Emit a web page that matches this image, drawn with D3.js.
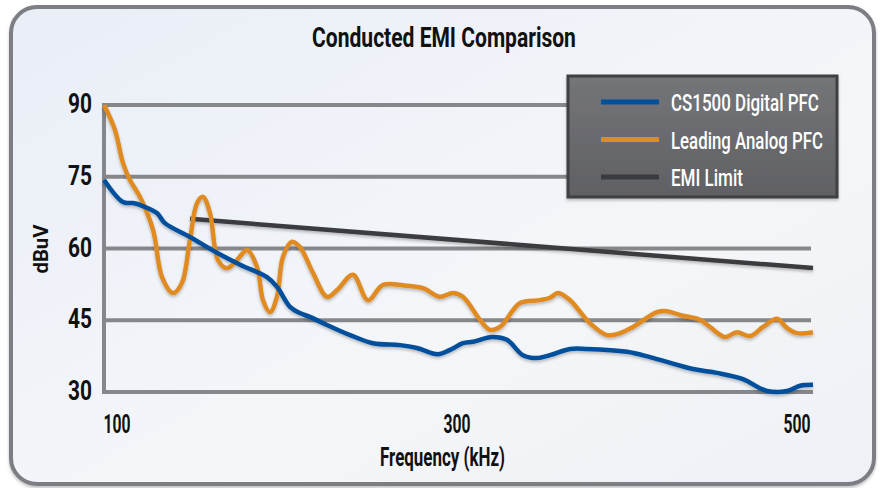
<!DOCTYPE html>
<html><head><meta charset="utf-8">
<script src="https://cdn.jsdelivr.net/npm/d3@7"></script>
<style>html,body{margin:0;padding:0;background:#fff;}svg{display:block;}</style>
</head><body>
<script>
// ---- data ----
const title = "Conducted EMI Comparison";
const xLabel = "Frequency (kHz)";
const yLabel = "dBuV";
const xTicks = [100, 300, 500];
const yTicks = [30, 45, 60, 75, 90];
const seriesNames = ["CS1500 Digital PFC", "Leading Analog PFC", "EMI Limit"];

const digitalFreq = [92.4,103.5,109.4,113.5,123.5,128.2,142.9,158.8,172.4,188.2,194.1,201.8,207.6,213.5,221.2,237.1,250.6,266.5,276.5,288.8,295.9,303.5,309.4,320.6,329.4,338.8,347.1,354.7,366.5,376.5,400,413.5,438.8,452.9,468.2,478.2,482.4,494.1,501.8,509.4];
const digitalVal  = [74.3,69.7,69.5,69.1,67.4,65.3,62.4,59.1,56.6,54.0,52.0,47.8,46.5,45.7,44.4,41.9,40.2,39.8,39.2,37.9,38.8,40.2,40.5,41.5,40.9,37.7,37.1,37.7,39.0,39.0,38.4,37.3,34.8,34.0,32.7,30.8,30.2,30.2,31.3,31.5];

const analogFreq = [92.4,98.8,103.5,107.6,113.5,121.2,126.5,132.9,138.2,142.9,147.1,150.6,154.7,159.4,164.7,170.6,176.5,182.4,185.9,190.0,194.1,197.6,202.9,207.6,215.3,223.5,229.4,238.8,247.6,256.5,270.6,280,290,297.6,303.5,313.5,319.4,325.3,337.1,348.8,354.7,359.4,366.5,378.2,388.2,395.9,403.5,417.6,423.5,431.2,442.9,448.8,457.6,464.7,472.4,480,488.2,494.1,500,509.4];
const analogVal  = [90.0,84.8,77.9,74.3,70.8,63.9,54.0,50.7,52.8,61.8,69.5,70.8,67.4,57.6,55.9,57.6,59.7,56.1,49.2,46.7,49.9,58.2,61.4,60.3,54.9,49.9,51.3,54.5,49.2,52.4,52.2,51.7,49.9,50.7,49.9,45.1,43.0,43.6,48.6,49.2,49.7,50.7,49.2,44.4,41.9,42.3,43.6,46.7,46.9,46.1,45.1,43.6,41.5,42.5,41.7,43.6,45.3,43.4,42.3,42.5];

const limitFreq = [143, 509.4];
const limitVal  = [66.2, 55.9];

// ---- layout ----
const W = 882, H = 488;
const svg = d3.select("body").append("svg").attr("width", W).attr("height", H);
const defs = svg.append("defs");

const bg = defs.append("linearGradient").attr("id","bg").attr("x1","0").attr("y1","0").attr("x2","1").attr("y2","1");
bg.append("stop").attr("offset","0").attr("stop-color","#e9eef7");
bg.append("stop").attr("offset","0.6").attr("stop-color","#f4f6f9");
bg.append("stop").attr("offset","1").attr("stop-color","#eef1f5");

const lg = defs.append("linearGradient").attr("id","lg").attr("x1","0").attr("y1","0").attr("x2","0").attr("y2","1");
lg.append("stop").attr("offset","0").attr("stop-color","#747579");
lg.append("stop").attr("offset","1").attr("stop-color","#5f6064");

const sh = defs.append("filter").attr("id","sh").attr("x","-10%").attr("y","-10%").attr("width","120%").attr("height","130%");
sh.append("feDropShadow").attr("dx",0).attr("dy",2).attr("stdDeviation",1.6).attr("flood-color","#000").attr("flood-opacity",0.25);

// frame
svg.append("rect").attr("x",11).attr("y",7).attr("width",863).attr("height",477).attr("rx",26)
  .attr("fill","url(#bg)").attr("stroke","#7c7e83").attr("stroke-width",4).attr("filter","url(#sh)");

const x = d3.scaleLinear().domain([100, 500]).range([117, 797]);
const y = d3.scaleLinear().domain([30, 90]).range([392, 105]);

// condensed text helper: draws text then squeezes horizontally to target width
function ctext(g, str, cx, by, size, w, anchor, color, weight) {
  const t = g.append("text").text(str)
    .attr("font-family","Roboto, 'Noto Sans', sans-serif")
    .attr("font-size", size).attr("font-weight", weight || 500)
    .attr("fill", color).attr("text-anchor", anchor);
  const len = t.node().getComputedTextLength();
  const s = w / len;
  t.attr("transform", `translate(${cx},${by}) scale(${s},1)`);
  return t;
}

// grid
const grid = svg.append("g");
grid.selectAll("line").data(yTicks).join("line")
  .attr("x1", 104).attr("x2", d => d === 30 ? 813 : 811)
  .attr("y1", d => y(d)).attr("y2", d => y(d))
  .attr("stroke", "#86878b").attr("stroke-width", 4);
grid.append("line").attr("x1",104).attr("x2",104).attr("y1",y(90)-2).attr("y2",y(30)+2)
  .attr("stroke","#86878b").attr("stroke-width",4);

// y tick labels
const ytl = svg.append("g");
yTicks.forEach(v => ctext(ytl, String(v), 92, y(v) + 8, 28, 24, "end", "#111", 700));
// x tick labels
const xtl = svg.append("g");
xTicks.forEach(v => ctext(xtl, String(v), x(v), 433, 25, 27, "middle", "#111", 700));

// titles
ctext(svg, title, 444, 47, 28, 264, "middle", "#111", 700);
ctext(svg, xLabel, 442.5, 466, 26, 125, "middle", "#111", 700);
const yl = svg.append("g").attr("transform","translate(48,249) rotate(-90)");
ctext(yl, yLabel, 0, 0, 21, 49, "middle", "#111", 700);

// lines
const line = d3.line().x(d => x(d[0])).y(d => y(d[1])).curve(d3.curveCatmullRom.alpha(0.5));
const plot = svg.append("g").attr("filter","url(#sh)");
plot.append("path").datum(limitFreq.map((f,i)=>[f, limitVal[i]]))
  .attr("d", d3.line().x(d=>x(d[0])).y(d=>y(d[1])))
  .attr("fill","none").attr("stroke","#3a3b3f").attr("stroke-width",4.5);
plot.append("path").datum(analogFreq.map((f,i)=>[f, analogVal[i]]))
  .attr("d", line).attr("fill","none").attr("stroke","#e08b24").attr("stroke-width",4.5).attr("stroke-linejoin","round");
plot.append("path").datum(digitalFreq.map((f,i)=>[f, digitalVal[i]]))
  .attr("d", line).attr("fill","none").attr("stroke","#00509c").attr("stroke-width",4.5).attr("stroke-linejoin","round");

// legend
const colors = ["#00509c", "#e08b24", "#3a3b3f"];
const legW = [148, 152, 72];
const leg = svg.append("g");
leg.append("rect").attr("x",568).attr("y",76).attr("width",269).attr("height",121)
  .attr("fill","url(#lg)").attr("stroke","#3f4043").attr("stroke-width",3).attr("filter","url(#sh)");
seriesNames.forEach((n,i) => {
  const ly = 102 + i*37.5;
  leg.append("line").attr("x1",601).attr("x2",659).attr("y1",ly).attr("y2",ly)
    .attr("stroke",colors[i]).attr("stroke-width",5);
  ctext(leg, n, 671, ly + 9, 24, legW[i], "start", "#fff", 500);
});
</script>
</body></html>
